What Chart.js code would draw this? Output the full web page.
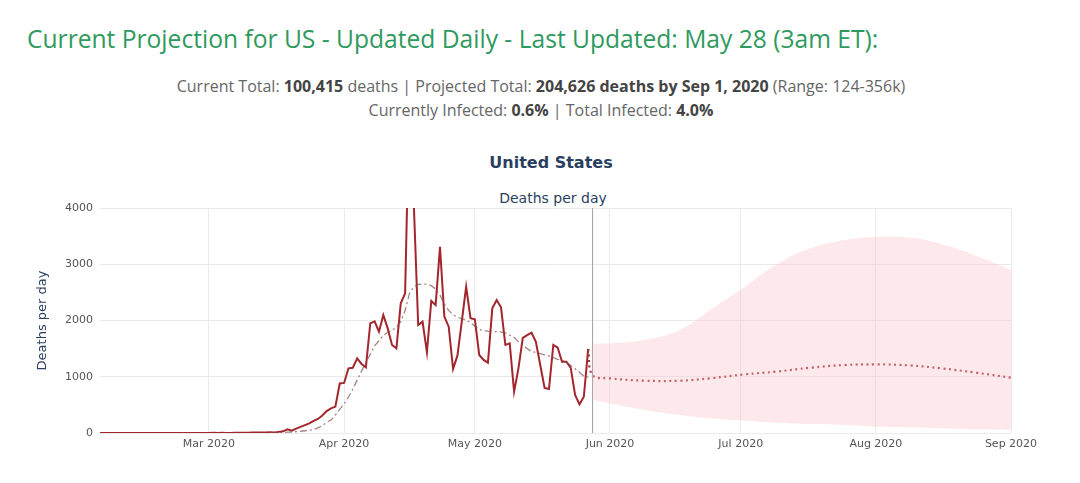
<!DOCTYPE html>
<html>
<head>
<meta charset="utf-8">
<script src="https://cdn.jsdelivr.net/npm/chart.js@4.4.1/dist/chart.umd.min.js"></script>
<style>
  html, body { margin: 0; padding: 0; background: #fff; }
  body { width: 1080px; height: 483px; position: relative; overflow: hidden; }
  .headline { position: absolute; left: 27px; top: 22px; font: 24.6px "Open Sans", sans-serif; color: #2f9a5e; white-space: nowrap; }
  .info { position: absolute; left: 0; width: 1082px; text-align: center; font: 16px "Open Sans", sans-serif; color: #666; white-space: nowrap; }
  .info b { color: #444; }
  .ctitle { position: absolute; left: 0; width: 1102px; text-align: center; font: bold 16px "DejaVu Sans", sans-serif; color: #2a3f5f; }
  .csub { position: absolute; left: 0; width: 1106px; text-align: center; font: 14px "DejaVu Sans", sans-serif; color: #2a3f5f; }
  #wrap { position: absolute; left: 0; top: 140px; width: 1080px; height: 343px; }
</style>
</head>
<body>
<div class="headline">Current Projection for US - Updated Daily - Last Updated: May 28 (3am ET):</div>
<div class="info" style="top:75px">Current Total: <b>100,415</b> deaths | Projected Total: <b>204,626 deaths by Sep 1, 2020</b> (Range: 124-356k)</div>
<div class="info" style="top:99px">Currently Infected: <b>0.6%</b> | Total Infected: <b>4.0%</b></div>
<div class="ctitle" style="top:153px">United States</div>
<div class="csub" style="top:190px">Deaths per day</div>
<div id="wrap"><canvas id="chart"></canvas></div>
<script>
// x range and month ticks
const rangeStart = "2020-02-05";
const rangeEnd = "2020-09-01";
const tickDates = ["2020-03-01", "2020-04-01", "2020-05-01", "2020-06-01", "2020-07-01", "2020-08-01", "2020-09-01"];
const tickLabels = ["Mar 2020", "Apr 2020", "May 2020", "Jun 2020", "Jul 2020", "Aug 2020", "Sep 2020"];

// reported deaths per day, one value per day from actualStart
const actualStart = "2020-02-05";
const actualDeaths = [
  0, 0, 0, 0, 0, 0, 0, 0, 0, 0, 0, 0, 0, 0, 0, 0, 0, 0, 0, 0, 0, 0, 0, 0, 1,
  1, 5, 1, 4, 1, 2, 3, 3, 4, 6, 8, 7, 10, 10, 12, 10, 20, 30, 65, 40, 77, 110, 140, 170, 215, 250, 310, 390, 439, 470, 880,
  890, 1150, 1160, 1328, 1227, 1168, 1950, 1985, 1800, 2098, 1860, 1565, 1505, 2305, 2483, 6000, 4050, 1920, 1980, 1435, 2347, 2275, 3310, 2070, 1890, 1140, 1375, 1980, 2600, 2040,
  2020, 1387, 1300, 1250, 2216, 2365, 2235, 1565, 1594, 735, 1150, 1690, 1740, 1783, 1623, 1209, 800, 782, 1565, 1517, 1268, 1268, 1155, 675, 510, 645, 1494
];

// smoothed deaths per day (dash-dot), one value per day from smoothStart
const smoothStart = "2020-03-15";
const smoothDeaths = [
  2, 4, 7, 10, 14, 18, 24, 31, 40, 50, 60, 90, 130, 190, 230, 320, 420,
  520, 640, 780, 940, 1100, 1250, 1400, 1550, 1640, 1735, 1790, 1825, 1880, 1980, 2180, 2480, 2600, 2640, 2650, 2645, 2620, 2560, 2450, 2290, 2180, 2100, 2060, 2030, 2010, 1960,
  1900, 1840, 1820, 1810, 1805, 1800, 1795, 1780, 1740, 1700, 1620, 1560, 1500, 1450, 1430, 1410, 1390, 1370, 1340, 1310, 1290, 1260, 1200, 1140, 1080, 1010, 990
];

// projection
const projDates = ["2020-05-27", "2020-05-28", "2020-06-01", "2020-06-09", "2020-06-17", "2020-06-24", "2020-07-02", "2020-07-09", "2020-07-17", "2020-07-25", "2020-08-01", "2020-08-09", "2020-08-16", "2020-08-24", "2020-09-01"];
const projMean = [1494, 1031, 972, 930, 930, 972, 1043, 1090, 1161, 1209, 1221, 1200, 1150, 1072, 984];
const bandDates = ["2020-05-28", "2020-06-01", "2020-06-09", "2020-06-17", "2020-06-24", "2020-07-02", "2020-07-09", "2020-07-17", "2020-07-25", "2020-08-01", "2020-08-09", "2020-08-16", "2020-08-24", "2020-09-01"];
const projUpper = [1582, 1594, 1653, 1831, 2187, 2601, 2987, 3284, 3431, 3490, 3470, 3360, 3150, 2898];
const projLower = [587, 528, 409, 320, 261, 219, 184, 160, 142, 112, 100, 83, 65, 53];

const lastUpdate = "2020-05-28";

// day number since 2020-01-01
const dayNum = (s) => Math.round((Date.parse(s + "T00:00:00Z") - Date.parse("2020-01-01T00:00:00Z")) / 86400000);
const daily = (start, vals) => vals.map((v, i) => ({ x: dayNum(start) + i, y: v }));
const paired = (dates, vals) => vals.map((v, i) => ({ x: dayNum(dates[i]), y: v }));

const tickFont = { family: "DejaVu Sans", size: 11 };
const gridColor = "#ebebeb";

new Chart(document.getElementById("chart"), {
  type: "line",
  data: {
    datasets: [
      {
        label: "Upper",
        data: paired(bandDates, projUpper),
        borderWidth: 0,
        borderColor: "rgba(0,0,0,0)",
        backgroundColor: "rgba(250,190,198,0.35)",
        fill: "+1",
        pointRadius: 0,
        tension: 0.4
      },
      {
        label: "Lower",
        data: paired(bandDates, projLower),
        borderWidth: 0,
        borderColor: "rgba(0,0,0,0)",
        fill: false,
        pointRadius: 0,
        tension: 0.4
      },
      {
        label: "Last update",
        data: [{ x: dayNum(lastUpdate), y: 0 }, { x: dayNum(lastUpdate), y: 4000 }],
        borderColor: "#a0a0a0",
        borderWidth: 1,
        pointRadius: 0,
        fill: false
      },
      {
        label: "Smoothed",
        data: daily(smoothStart, smoothDeaths),
        borderColor: "rgba(130,80,80,0.7)",
        borderWidth: 1.3,
        borderDash: [7, 3, 2, 3],
        pointRadius: 0,
        fill: false
      },
      {
        label: "Projection",
        data: paired(projDates, projMean),
        borderColor: "#a8343a",
        borderWidth: 2.2,
        borderDash: [2, 3.5],
        pointRadius: 0,
        fill: false,
        tension: 0.4
      },
      {
        label: "Deaths",
        data: daily(actualStart, actualDeaths),
        borderColor: "#a3262c",
        borderWidth: 2,
        pointRadius: 0,
        fill: false,
        tension: 0
      }
    ]
  },
  options: {
    responsive: true,
    maintainAspectRatio: false,
    animation: false,
    layout: { padding: { left: 0, right: 69, top: 68, bottom: 20 } },
    plugins: {
      legend: { display: false },
      tooltip: { enabled: false }
    },
    scales: {
      x: {
        type: "linear",
        min: dayNum(rangeStart),
        max: dayNum(rangeEnd),
        afterFit: (scale) => { scale.height = 30; },
        afterBuildTicks: (scale) => { scale.ticks = tickDates.map((d) => ({ value: dayNum(d) })); },
        ticks: {
          autoSkip: false,
          maxRotation: 0,
          padding: 5,
          color: "#555",
          font: tickFont,
          callback: (value) => tickLabels[tickDates.findIndex((d) => dayNum(d) === value)]
        },
        grid: { color: gridColor, drawTicks: false },
        border: { display: false }
      },
      y: {
        min: 0,
        max: 4000,
        afterFit: (scale) => { scale.width = 100; },
        ticks: { stepSize: 1000, padding: 7, color: "#555", font: tickFont, callback: (value) => String(value) },
        grid: { color: gridColor, drawTicks: false },
        border: { display: false },
        title: {
          display: true,
          text: "Deaths per day",
          color: "#2a3f5f",
          font: { family: "DejaVu Sans", size: 13 },
          padding: { top: 35, bottom: 0 }
        }
      }
    }
  }
});
</script>
</body>
</html>
